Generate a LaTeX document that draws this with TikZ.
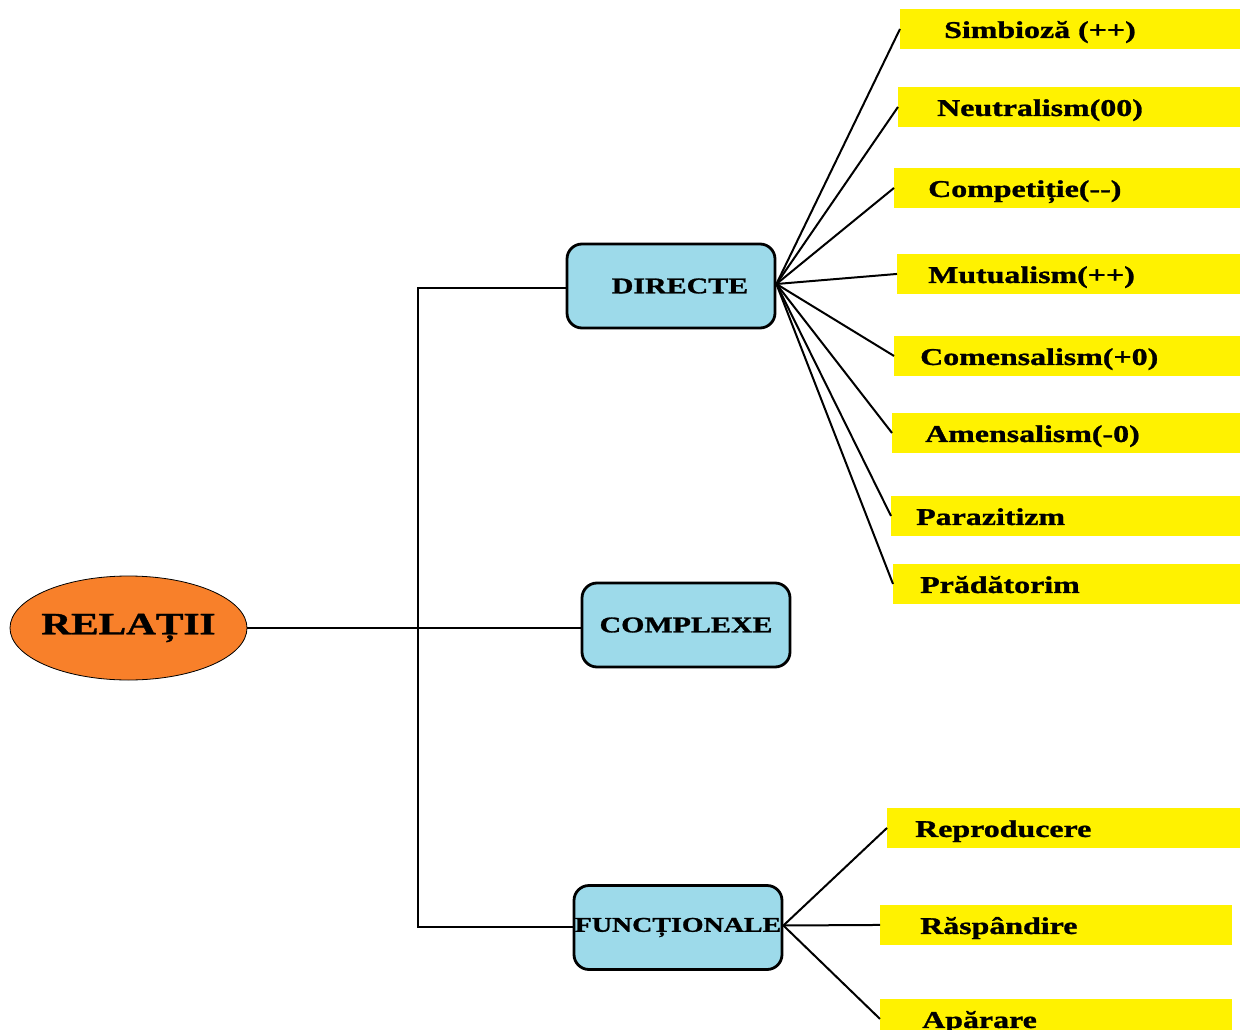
\documentclass[tikz,border=0pt]{standalone}
\usepackage{fontspec}
\setmainfont{Liberation Serif}[FakeStretch=1.33, BoldFeatures={FakeBold=1.2}]
\usetikzlibrary{shapes.geometric}
\definecolor{relorange}{HTML}{F8802A}
\definecolor{hubblue}{HTML}{9DDAEA}
\definecolor{leafyellow}{HTML}{FFF200}
\begin{document}
\begin{tikzpicture}[x=1pt, y={(0pt,-1pt)},
  conn/.style={line width=2pt, black},
  hub/.style={draw=black, line width=2.8pt, fill=hubblue, rounded corners=15pt,
    minimum width=208pt, minimum height=84pt, inner sep=0pt,
    font=\bfseries\fontsize{22.5}{26}\selectfont},
  leaf/.style={fill=leafyellow, anchor=north west, minimum height=39.5pt,
    inner ysep=0pt, align=left, text height=21pt, text depth=3pt,
    font=\bfseries\fontsize{24}{28}\selectfont},
]
\useasboundingbox (0,0) rectangle (1240,1030);
\clip (0,0) rectangle (1240,1030);

% root
\node[ellipse, draw=black, line width=0.8pt, fill=relorange,
  minimum width=237pt, minimum height=104pt, inner xsep=-12pt, inner ysep=0pt,
  font=\bfseries\fontsize{31}{36}\selectfont] (rel) at (128.5,628) {RELAȚII};

% second level
\node[hub] (dir) at (671,286) {\hspace*{18pt}DIRECTE};
\node[hub] (cx) at (686,625) {COMPLEXE};
\node[hub, font=\bfseries\fontsize{21}{25}\selectfont] (fun) at (678,927.5) {FUNCȚIONALE};

% direct relations
\node[leaf, inner xsep=44pt, text width=252pt] (s1) at (900,9) {Simbioză (++)};
\node[leaf, inner xsep=39pt, text width=264pt] (s2) at (898,87) {Neutralism(00)};
\node[leaf, inner xsep=34pt, text width=278pt] (s3) at (894,168) {Competiție(-{}-)};
\node[leaf, inner xsep=31pt, text width=281pt] (s4) at (897,254) {Mutualism(++)};
\node[leaf, inner xsep=26pt, text width=294pt] (s5) at (894,336) {Comensalism(+0)};
\node[leaf, inner xsep=33pt, text width=282pt] (s6) at (892,413) {Amensalism(-0)};
\node[leaf, inner xsep=25pt, text width=299pt] (s7) at (891,496) {Parazitizm};
\node[leaf, inner xsep=27pt, text width=293pt] (s8) at (893,564) {Prădătorim};

% functional relations
\node[leaf, inner xsep=28pt, text width=297pt] (f1) at (887,808) {Reproducere};
\node[leaf, inner xsep=40pt, text width=272pt] (f2) at (880,905) {Răspândire};
\node[leaf, inner xsep=42pt, text width=268pt] (f3) at (880,999) {Apărare};

% tree trunk
\coordinate (trunk) at (418,627);
\draw[conn] (rel.east) -- (rel.east -| cx.west);
\draw[conn] ([yshift=-2pt]dir.west) -| (trunk) |- ([yshift=1pt]fun.west);

% fans
\foreach \n in {s1,s2,s3,s4,s5,s6,s7,s8}
  \draw[conn] ([yshift=2pt]dir.east) -- (\n.west);
\foreach \n in {f1,f2,f3}
  \draw[conn] ([yshift=2pt]fun.east) -- (\n.west);
\end{tikzpicture}
\end{document}
